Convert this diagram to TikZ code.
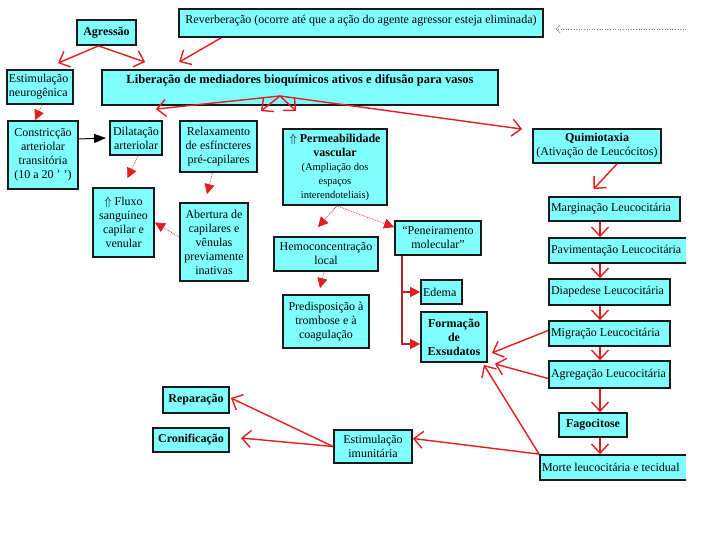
\documentclass[tikz,border=0pt]{standalone}
\usepackage{fontspec}
\setmainfont{Liberation Serif}
\usetikzlibrary{arrows.meta}

\definecolor{boxcyan}{RGB}{128,255,255}
\definecolor{arrred}{RGB}{225,30,30}
\definecolor{branchred}{RGB}{170,40,40}

\begin{document}
\begin{tikzpicture}[x=1pt, y=-1pt,
  box/.style={draw=black!90, line width=1.8pt, fill=boxcyan, inner sep=2pt,
              align=center, font=\fontsize{12}{14}\selectfont},
  lbox/.style={box, align=flush left},
  rarr/.style={draw=arrred, line width=1.4pt,
               -{Straight Barb[length=9pt,width=17pt,line width=1.4pt]}},
  darr/.style={draw=arrred, line width=0.7pt, densely dotted,
               -{Triangle[length=10pt,width=10pt]}},
  barr/.style={draw=branchred, line width=1.6pt,
               -{Triangle[length=10pt,width=10pt,color=arrred]}},
  karr/.style={draw=black, line width=1pt, -{Triangle[length=12pt,width=9pt]}},
  gdot/.style={draw=gray, line width=0.6pt, dotted,
               -{Straight Barb[length=4pt,width=8pt,line width=0.5pt]}}
]
  \fill[white] (0,0) rectangle (720,540);
  \useasboundingbox (0,0) rectangle (720,540);
  \begin{scope}
  \clip (0,0) rectangle (686,540);

  \node[box, minimum width=59pt, minimum height=25pt] (agr) at (106.5,32.5) {\textbf{Agressão}};
  \node[box, minimum width=364pt, minimum height=28pt, text height=11pt, text depth=10pt] (rev) at (361,23)
        {Reverberação (ocorre até que a ação do agente agressor esteja eliminada)};
  \node[lbox, text width=62pt, minimum height=34pt] (neu) at (40,87) {Estimulação\\neurogênica};
  \node[box, minimum width=396pt, minimum height=35pt, text height=12pt, text depth=19pt] (lib) at (300,87.5)
        {\textbf{\fontsize{12.5}{14}\selectfont Liberação de mediadores bioquímicos ativos e difusão para vasos}};
  \node[box, minimum width=70pt, minimum height=68pt] (con) at (43,155)
        {Constricção\\arteriolar\\transitória\\(10 a 20 ’ ’)};
  \node[box, minimum width=52pt, minimum height=34pt] (dil) at (136,138) {Dilatação\\arteriolar};
  \node[box, minimum width=77pt, minimum height=51pt] (rel) at (218.5,146.5)
        {Relaxamento\\de esfíncteres\\pré-capilares};
  \node[box, minimum width=104pt, minimum height=76pt] (perm) at (335,167)
        {\textbf{$\Uparrow$ Permeabilidade}\\\textbf{vascular}\\{\fontsize{10.5}{13}\selectfont (Ampliação dos}\\
         {\fontsize{10.5}{13}\selectfont espaços}\\{\fontsize{10.5}{13}\selectfont interendoteliais)}};
  \node[box, minimum width=128pt, minimum height=34pt] (qui) at (597,146)
        {\textbf{Quimiotaxia}\\(Ativação de Leucócitos)};
  \node[box, minimum width=61pt, minimum height=69pt] (flu) at (123.5,222.5)
        {$\Uparrow$ Fluxo\\sanguíneo\\capilar e\\venular};
  \node[box, minimum width=68pt, minimum height=78pt] (abe) at (214,242)
        {Abertura de\\capilares e\\vênulas\\previamente\\inativas};
  \node[box, minimum width=104pt, minimum height=34pt] (hem) at (326,254) {Hemoconcentração\\local};
  \node[box, minimum width=86pt, minimum height=34pt] (pen) at (438,238) {“Peneiramento\\molecular”};
  \node[lbox, text width=127pt, minimum height=24pt] (mar) at (614.5,209) {Marginação Leucocitária};
  \node[lbox, text width=137pt, minimum height=25pt] (pav) at (619.5,250.5) {Pavimentação Leucocitária};
  \node[lbox, text width=37pt, minimum height=24pt] (ede) at (441.5,292) {Edema};
  \node[box, minimum width=66pt, minimum height=50pt] (for) at (454,337)
        {\textbf{Formação}\\\textbf{de}\\\textbf{Exsudatos}};
  \node[lbox, text width=117pt, minimum height=26pt] (dia) at (609.5,292) {Diapedese Leucocitária};
  \node[box, minimum width=86pt, minimum height=53pt] (pre) at (326,321.5)
        {Predisposição à\\trombose e à\\coagulação};
  \node[lbox, text width=117pt, minimum height=25pt] (mig) at (609.5,333.5) {Migração Leucocitária};
  \node[lbox, text width=117pt, minimum height=27pt] (agg) at (609.5,374.5) {Agregação Leucocitária};
  \node[box, minimum width=66pt, minimum height=26pt] (rep) at (196,400) {\textbf{Reparação}};
  \node[box, minimum width=76pt, minimum height=24pt] (cro) at (191,440) {\textbf{Cronificação}};
  \node[box, minimum width=78pt, minimum height=33pt] (imu) at (373,446.5) {Estimulação\\imunitária};
  \node[box, minimum width=68pt, minimum height=24pt] (fag) at (593,425) {\textbf{Fagocitose}};
  \node[lbox, text width=146pt, minimum height=25pt] (mor) at (615,467.5) {Morte leucocitária e tecidual};

  \coordinate (libfan) at (280,96);
  \coordinate (chainx) at (600,0);
  \coordinate (revnote) at (686,29);
  \coordinate (penfoot) at ([xshift=8pt]pen.south west);

  \draw[rarr] ([xshift=-8pt]agr.south) -- ([xshift=18pt,yshift=6pt]neu.north);
  \draw[rarr] ([xshift=-8pt]agr.south) -- ([xshift=44pt,yshift=7pt]lib.north west);
  \draw[rarr] ([xshift=43pt]rev.south west) -- ([xshift=78pt,yshift=7pt]lib.north west);
  \draw[gdot] (revnote) -- ([xshift=12pt,yshift=-6pt]rev.east);

  \draw[darr] ([xshift=2pt]neu.south) -- ([xshift=-8pt]con.north);
  \draw[karr] ([yshift=16pt]con.east) -- ([xshift=-3pt]dil.west);

  \draw[rarr] (libfan) -- ([xshift=-7pt,yshift=11pt]dil.north east);
  \draw[rarr] (libfan) -- ([xshift=3pt,yshift=9pt]rel.north east);
  \draw[rarr] (libfan) -- ([xshift=14pt,yshift=17pt]perm.north west);
  \draw[rarr] (libfan) -- ([xshift=-10pt,yshift=-1pt]qui.north west);

  \draw[darr] ([xshift=2pt]dil.south) -- ([xshift=4pt,yshift=9pt]flu.north);
  \draw[darr] ([xshift=-6pt]rel.south) -- ([xshift=-7pt,yshift=8pt]abe.north);
  \draw[darr] ([yshift=5pt]abe.west) -- (flu.east);
  \draw[darr] ([xshift=2pt]perm.south) -- ([xshift=-8pt,yshift=9pt]hem.north);
  \draw[darr] ([xshift=2pt]perm.south) -- ([yshift=-7pt]pen.north west);
  \draw[darr] ([xshift=-2pt]hem.south) -- ([xshift=-6pt,yshift=6pt]pre.north);

  \draw[barr] (penfoot) |- ([yshift=-7pt]for.west);
  \draw[barr] (penfoot |- ede.west) -- (ede.west);

  \draw[rarr] ([xshift=20pt]qui.south) -- ([xshift=-21pt,yshift=7pt]mar.north);
  \foreach \a/\b in {mar/pav, pav/dia, dia/mig, mig/agg, agg/fag, fag/mor}
    \draw[rarr] (\a.south -| chainx) -- (\b.north -| chainx);

  \draw[rarr] ([yshift=3pt]mig.west) -- ([xshift=4pt,yshift=10pt]for.south east);
  \draw[rarr] ([yshift=-4pt]agg.west) -- ([xshift=7pt,yshift=-1pt]for.south east);
  \draw[rarr] (mor.north west) -- ([xshift=-4pt,yshift=-2pt]for.south east);
  \draw[rarr] (mor.north west) -- ([yshift=8pt]imu.east);
  \draw[rarr] (imu.west) -- ([xshift=1pt,yshift=2pt]rep.east);
  \draw[rarr] (imu.west) -- ([xshift=11pt,yshift=2pt]cro.east);
  \end{scope}
\end{tikzpicture}
\end{document}
